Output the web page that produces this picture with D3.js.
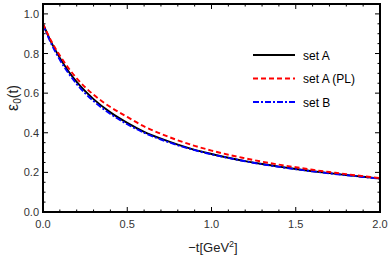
<!DOCTYPE html>
<html><head><meta charset="utf-8">
<script src="https://cdn.jsdelivr.net/npm/d3@7"></script>
<style>body{margin:0;background:#fff}svg{display:block}</style>
</head><body>
<svg id="c" width="390" height="259"></svg>
<script>
const tVals = [0,0.05,0.1,0.15,0.2,0.3,0.4,0.5,0.6,0.7,0.8,0.9,1.0,1.1,1.2,1.3,1.4,1.5,1.6,1.7,1.8,1.9,2.0];
const setA   = [0.950,0.855,0.778,0.712,0.657,0.570,0.503,0.450,0.405,0.370,0.340,0.314,0.293,0.274,0.257,0.242,0.229,0.217,0.206,0.196,0.187,0.178,0.169];
const setAPL = [0.950,0.862,0.790,0.728,0.675,0.592,0.530,0.480,0.432,0.395,0.362,0.334,0.310,0.289,0.271,0.254,0.239,0.226,0.213,0.202,0.191,0.181,0.171];
const setB   = [0.945,0.848,0.768,0.702,0.646,0.560,0.495,0.443,0.400,0.366,0.337,0.312,0.291,0.273,0.256,0.241,0.228,0.216,0.205,0.195,0.186,0.177,0.168];
const xTicks = [0,0.5,1.0,1.5,2.0];
const yTicks = [0,0.2,0.4,0.6,0.8,1.0];
const seriesNames = ["set A","set A (PL)","set B"];

const svg = d3.select("#c");
const L=43,R=380,T=4,B=212;
const x = d3.scaleLinear().domain([0,2]).range([L,R]);
const y = d3.scaleLinear().domain([0,1.05]).range([B,T]);
const font = "Liberation Sans, Arial, sans-serif";

const series = [
  {name:seriesNames[0], v:setA, color:"#000", dash:null},
  {name:seriesNames[1], v:setAPL, color:"#ff0000", dash:"5,3"},
  {name:seriesNames[2], v:setB, color:"#0000ff", dash:"6,2,2,2"}
];
const line = d3.line().x((d,i)=>x(tVals[i])).y(d=>y(d)).curve(d3.curveMonotoneX);
const g = svg.append("g");
g.append("clipPath").attr("id","clip").append("rect").attr("x",L).attr("y",T).attr("width",R-L).attr("height",B-T);
[series[0],series[2],series[1]].forEach(s=>{
  g.append("path").attr("d",line(s.v)).attr("fill","none").attr("stroke",s.color)
   .attr("stroke-width",1.9).attr("stroke-dasharray",s.dash).attr("clip-path","url(#clip)");
});

// ticks
const minorX = d3.range(0,2.0001,0.1);
const minorY = d3.range(0,1.0501,0.05);
const tk = svg.append("g").attr("stroke","#000").attr("stroke-width",1);
minorX.forEach(v=>{
  const major = xTicks.some(m=>Math.abs(m-v)<1e-6);
  const len = major?5:2.5;
  tk.append("line").attr("x1",x(v)).attr("x2",x(v)).attr("y1",B).attr("y2",B-len);
  tk.append("line").attr("x1",x(v)).attr("x2",x(v)).attr("y1",T).attr("y2",T+len);
});
minorY.forEach(v=>{
  const major = yTicks.some(m=>Math.abs(m-v)<1e-6);
  const len = major?5:2.5;
  tk.append("line").attr("y1",y(v)).attr("y2",y(v)).attr("x1",L).attr("x2",L+len);
  tk.append("line").attr("y1",y(v)).attr("y2",y(v)).attr("x1",R).attr("x2",R-len);
});
svg.append("rect").attr("x",L).attr("y",T).attr("width",R-L).attr("height",B-T)
  .attr("fill","none").attr("stroke","#000").attr("stroke-width",2);

// tick labels
const fmt = d3.format(".1f");
svg.selectAll(".xl").data(xTicks).enter().append("text")
  .attr("x",d=>x(d)).attr("y",B+16).attr("text-anchor","middle")
  .attr("font-family",font).attr("font-size",11).attr("fill","#333").text(fmt);
svg.selectAll(".yl").data(yTicks).enter().append("text")
  .attr("x",L-4).attr("y",d=>y(d)+4).attr("text-anchor","end")
  .attr("font-family",font).attr("font-size",11).attr("fill","#333").text(fmt);

// axis labels
const xl = svg.append("text").attr("x",213).attr("y",252).attr("text-anchor","middle")
  .attr("font-family",font).attr("font-size",13).attr("fill","#222");
xl.append("tspan").text("\u2212t[GeV");
xl.append("tspan").attr("font-size",9).attr("dy",-5).text("2");
xl.append("tspan").attr("dy",5).text("]");
const yl = svg.append("text").attr("transform","translate(18,98) rotate(-90)").attr("text-anchor","middle")
  .attr("font-family",font).attr("font-size",14).attr("fill","#222");
yl.append("tspan").attr("font-size",16).text("\u03b5");
yl.append("tspan").attr("font-size",10).attr("dy",3).text("0");
yl.append("tspan").attr("dy",-3).text("(t)");

// legend
const lg = svg.append("g");
series.forEach((s,i)=>{
  const yy = 55 + i*23.5;
  lg.append("line").attr("x1",253).attr("x2",295).attr("y1",yy).attr("y2",yy)
    .attr("stroke",s.color).attr("stroke-width",1.9).attr("stroke-dasharray",s.dash);
  lg.append("text").attr("x",303).attr("y",yy+4.5).attr("font-family",font).attr("font-size",12)
    .attr("fill","#000").text(s.name);
});
</script>
</body></html>
